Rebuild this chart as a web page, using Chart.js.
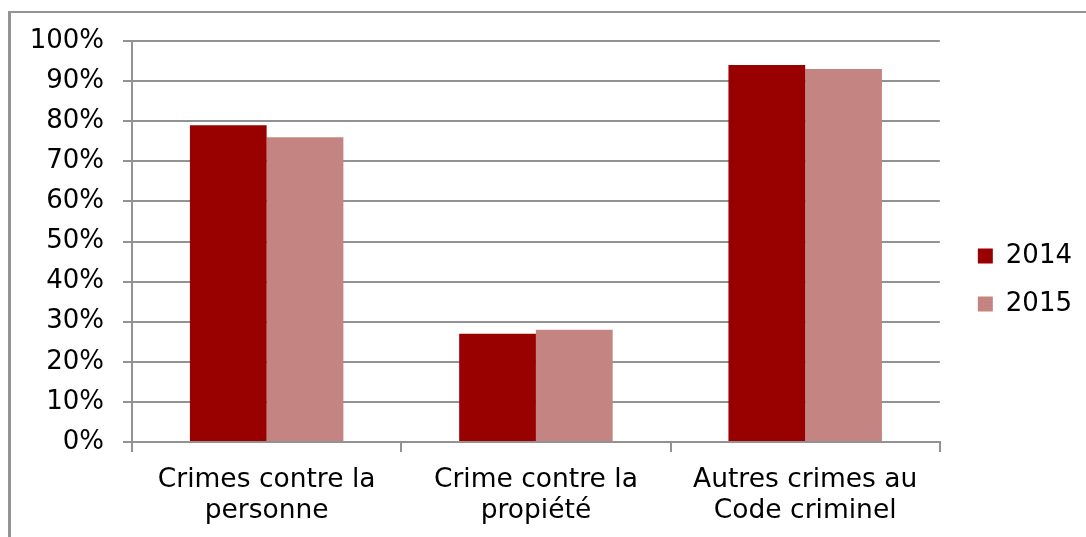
<!DOCTYPE html>
<html>
<head>
<meta charset="utf-8">
<script src="https://cdn.jsdelivr.net/npm/chart.js@4/dist/chart.umd.min.js"></script>
<style>
  html, body { margin: 0; padding: 0; background: #ffffff; overflow: hidden; }
  #wrap { position: relative; width: 1086px; height: 537px; }
  #frame { position: absolute; left: 8px; top: 11px; width: 1200px; height: 700px;
           border-top: 2px solid #939393; border-left: 3px solid #939393; box-sizing: border-box; }
  canvas { position: absolute; left: 0; top: 0; }
</style>
</head>
<body>
<div id="wrap">
  <div id="frame"></div>
  <canvas id="c" width="1086" height="537"></canvas>
</div>
<script>
const categories = [
  ["Crimes contre la", "personne"],
  ["Crime contre la", "propiété"],
  ["Autres crimes au", "Code criminel"]
];
const seriesNames = ["2014", "2015"];
const values2014 = [79, 27, 94];
const values2015 = [76, 28, 93];
const yTicks = [0, 10, 20, 30, 40, 50, 60, 70, 80, 90, 100];

const FONT = "'DejaVu Sans', Verdana, sans-serif";
const GRID = "#929292";

const legendNudge = {
  id: "legendNudge",
  afterLayout(chart) {
    const l = chart.legend;
    if (l) { l.top -= 9; l.bottom -= 9; l.left -= 3; l.right -= 3; }
  }
};

new Chart(document.getElementById("c"), {
  type: "bar",
  data: {
    labels: categories,
    datasets: [
      { label: seriesNames[0], data: values2014, backgroundColor: "#990000", borderWidth: 0 },
      { label: seriesNames[1], data: values2015, backgroundColor: "#C48482", borderWidth: 0 }
    ]
  },
  plugins: [legendNudge],
  options: {
    responsive: false,
    animation: false,
    devicePixelRatio: 1,
    categoryPercentage: 0.57,
    barPercentage: 1.0,
    layout: { padding: { top: 41, left: 0, right: 1, bottom: 0 } },
    plugins: {
      tooltip: { enabled: false },
      legend: {
        position: "right",
        labels: {
          boxWidth: 15, boxHeight: 15, padding: 22,
          color: "#000000",
          font: { family: FONT, size: 26 }
        }
      }
    },
    scales: {
      x: {
        grid: { display: true, drawOnChartArea: false, drawTicks: true, tickLength: 10, color: GRID, lineWidth: 2 },
        border: { display: true, color: GRID, width: 2 },
        ticks: { color: "#000000", font: { family: FONT, size: 26.5, lineHeight: 1.15 }, padding: 13, maxRotation: 0, autoSkip: false },
        afterFit: s => { s.height = 95; }
      },
      y: {
        min: 0, max: 100,
        afterBuildTicks: s => { s.ticks = yTicks.map(v => ({ value: v })); },
        grid: { color: GRID, lineWidth: 2, tickLength: 9, drawTicks: true },
        border: { display: true, color: GRID, width: 2 },
        ticks: { color: "#000000", font: { family: FONT, size: 26 }, padding: 19, callback: v => v + "%" },
        afterFit: s => { s.width = 132; }
      },
      pad: {
        type: "linear", position: "right", display: true,
        grid: { display: false, drawTicks: false },
        border: { display: false },
        ticks: { display: false },
        afterFit: s => { s.width = 19; }
      }
    }
  }
});
</script>
</body>
</html>
